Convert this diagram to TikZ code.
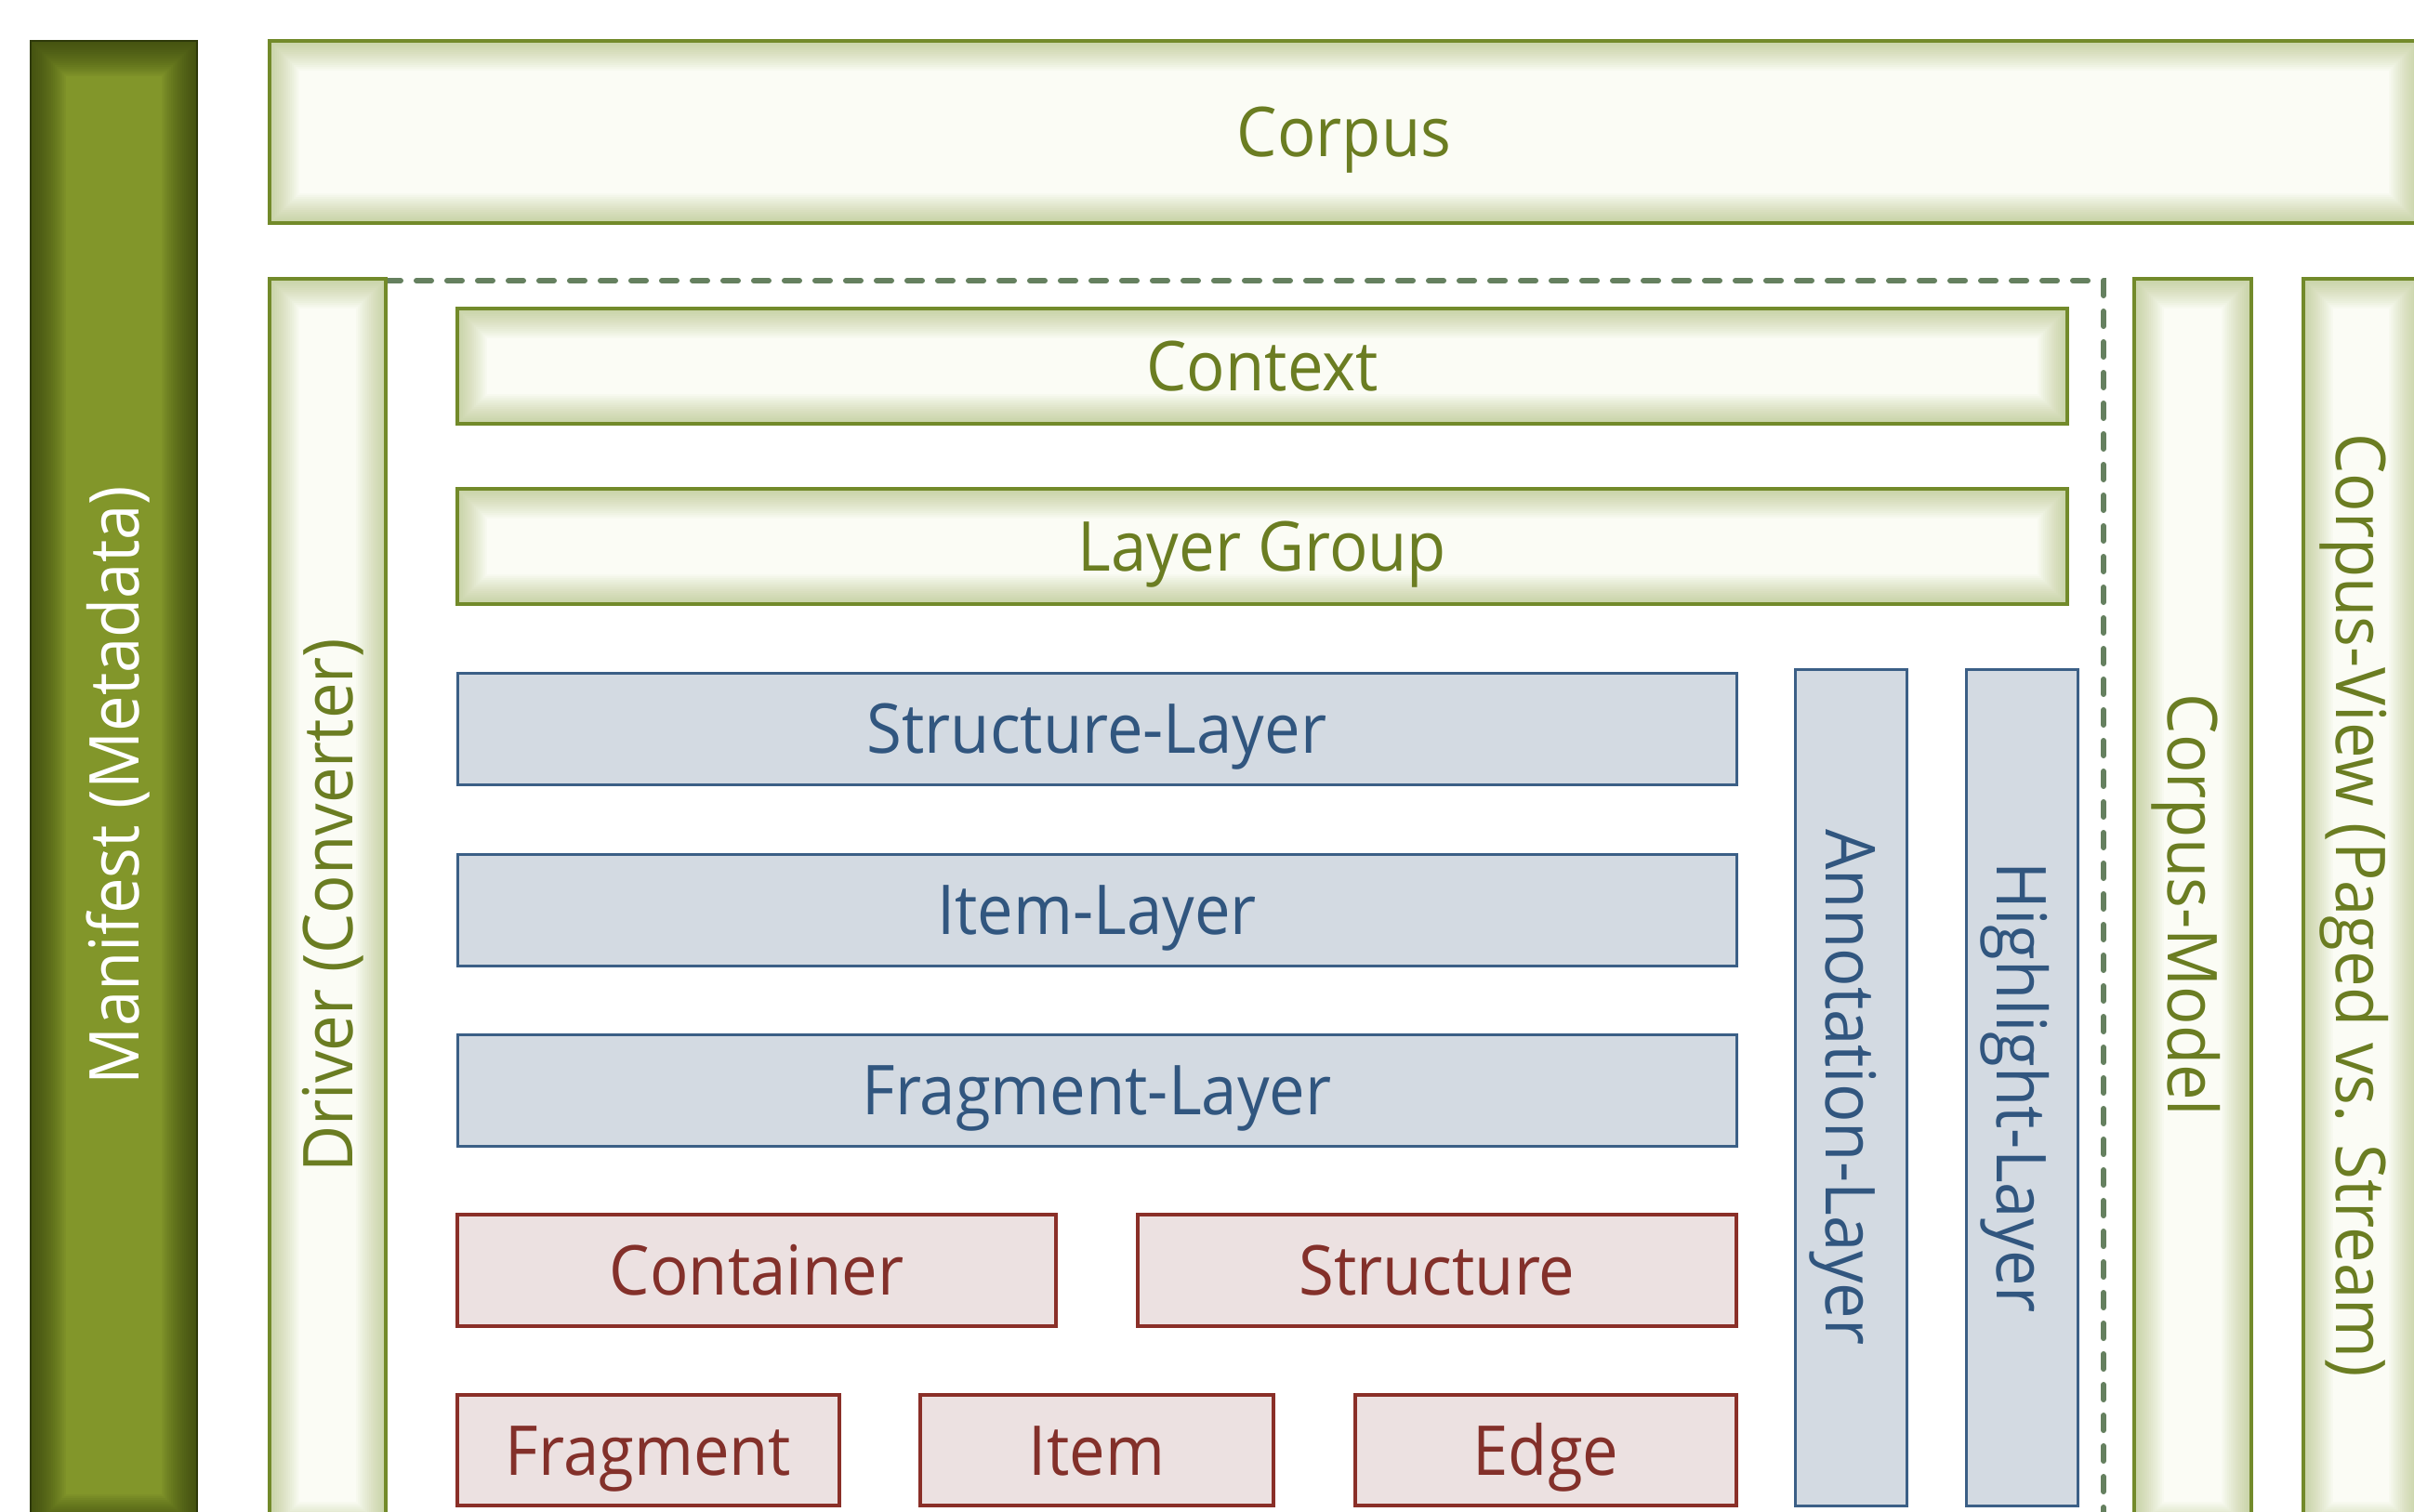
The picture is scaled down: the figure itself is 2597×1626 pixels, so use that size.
\documentclass[tikz,border=0pt]{standalone}
\usepackage{fontspec}
\setmainfont[FakeStretch=0.93]{Open Sans}
\usepackage{graphicx}

% palette
\definecolor{gstroke}{HTML}{728A2A}
\definecolor{gfill}{HTML}{FBFCF5}
\definecolor{gglow}{HTML}{8FA443}
\definecolor{gtext}{HTML}{6B7D22}
\definecolor{mfill}{HTML}{82962A}
\definecolor{mdark}{HTML}{2E390A}
\definecolor{bstroke}{HTML}{3B5F86}
\definecolor{bfill}{HTML}{D3DAE2}
\definecolor{btext}{HTML}{31567F}
\definecolor{rstroke}{HTML}{8A2F28}
\definecolor{rfill}{HTML}{ECE1E1}
\definecolor{rtext}{HTML}{83302A}
\definecolor{dashcol}{HTML}{65805F}

% a line of text whose box is exactly its cap height, so it centres on the caps
\newcommand\capline[1]{\raisebox{0pt}[53pt][0pt]{#1}}

\tikzset{
  base/.style={inner sep=0pt, outer sep=0pt, anchor=north west,
    font=\fontsize{74}{80}\selectfont},
  % pale green panel with a soft green inner glow
  gbox/.style={base, draw=gstroke, line width=3.5pt, fill=gfill, text=gtext,
    path picture={
      \foreach \w in {4,8,...,64}
        \draw[draw=gglow, line width=\w pt, opacity=0.03]
          (path picture bounding box.south west) rectangle
          (path picture bounding box.north east);
    }},
  % solid green bar with darkened edges
  mbox/.style={base, draw=mdark, line width=1.5pt, fill=mfill, text=white,
    path picture={
      \foreach \w in {4,8,...,76}
        \draw[draw=mdark, line width=\w pt, opacity=0.055]
          (path picture bounding box.south west) rectangle
          (path picture bounding box.north east);
    }},
  bbox/.style={base, draw=bstroke, line width=3pt, fill=bfill, text=btext},
  rbox/.style={base, draw=rstroke, line width=3.5pt, fill=rfill, text=rtext},
  dframe/.style={draw=dashcol, line width=6pt, line cap=round,
    dash pattern=on 16pt off 17pt},
}

\begin{document}
\begin{tikzpicture}[x=1pt,y=-1pt]
\useasboundingbox (0,0) rectangle (2597,1626);
\clip (0,0) rectangle (2597,1626);
\fill[white] (0,0) rectangle (2597,1626);

% metadata bar and the corpus header
\node[mbox, minimum width=179pt, minimum height=1602pt] (manifest) at (33,44)
  {\rotatebox{90}{\capline{Manifest (Metadata)}}};
\node[gbox, minimum width=2312pt, minimum height=196pt] (corpus) at (290,44)
  {\capline{Corpus}};

% dashed frame around the layer stack
\draw[dframe] (415,302) -- (2263,302) -- (2263,1720);

% vertical panels
\node[gbox, minimum width=125pt, minimum height=1348pt] (driver) at (290,300)
  {\rotatebox{90}{\capline{Driver (Converter)}}};
\node[gbox, minimum width=126pt, minimum height=1348pt] (model) at (2296,300)
  {\rotatebox{-90}{\capline{Corpus-Model}}};
\node[gbox, minimum width=124pt, minimum height=1348pt] (view) at (2478,300)
  {\rotatebox{-90}{\capline{Corpus-View (Paged vs. Stream)}}};

% context and layer group
\node[gbox, minimum width=1732pt, minimum height=124pt] (context) at (492,332)
  {\capline{Context}};
\node[gbox, minimum width=1732pt, minimum height=124pt] (group) at (492,526)
  {\capline{Layer Group}};

% layers
\node[bbox, minimum width=1376pt, minimum height=120pt] (structlayer) at (492,724)
  {\capline{Structure-Layer}};
\node[bbox, minimum width=1376pt, minimum height=120pt] (itemlayer) at (492,919)
  {\capline{Item-Layer}};
\node[bbox, minimum width=1376pt, minimum height=120pt] (fraglayer) at (492,1113)
  {\capline{Fragment-Layer}};
\node[bbox, minimum width=120pt, minimum height=900pt] (annolayer) at (1931,720)
  {\rotatebox{-90}{\capline{Annotation-Layer}}};
\node[bbox, minimum width=120pt, minimum height=900pt] (highlayer) at (2115,720)
  {\rotatebox{-90}{\capline{Highlight-Layer}}};

% basic elements
\node[rbox, minimum width=644pt, minimum height=120pt] (container) at (492,1307)
  {\capline{Container}};
\node[rbox, minimum width=644pt, minimum height=120pt] (structure) at (1224,1307)
  {\capline{Structure}};
\node[rbox, minimum width=411pt, minimum height=119pt] (fragment) at (492,1501)
  {\capline{Fragment}};
\node[rbox, minimum width=380pt, minimum height=119pt] (item) at (990,1501)
  {\capline{Item}};
\node[rbox, minimum width=410pt, minimum height=119pt] (edge) at (1458,1501)
  {\capline{Edge}};
\end{tikzpicture}
\end{document}
